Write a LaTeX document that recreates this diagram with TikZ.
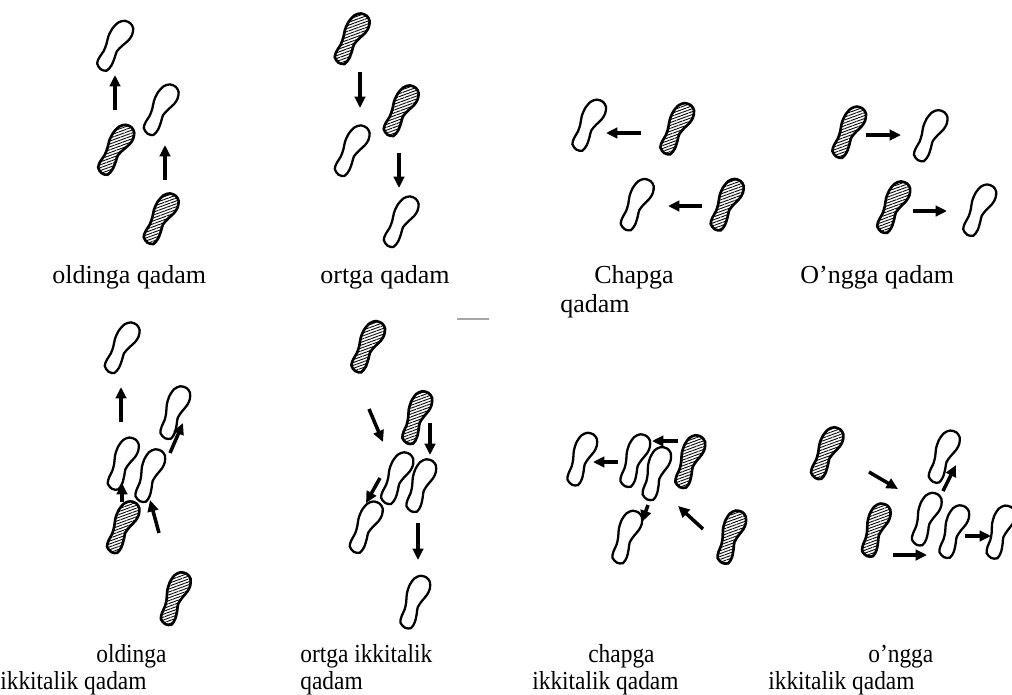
\documentclass[tikz,border=0pt]{standalone}
\usepackage{fontspec}
\setmainfont{Liberation Serif}
\usetikzlibrary{arrows.meta,patterns.meta}
\tikzset{
  openfoot/.style={draw=black, line width=1.3pt, fill=white},
  hatchfoot/.style={draw=black, line width=1.5pt, pattern={Lines[angle=20,distance=1.55pt,line width=0.5pt]}},
  steparrow/.style={line width=2pt, -{Triangle[length=6.5pt,width=6pt]}},
  lbl/.style={anchor=base west, inner sep=0pt, font=\fontsize{14.8pt}{17pt}\selectfont},
  blbl/.style={lbl, xscale=0.9},
}
\newcommand\foot[4]{\path[#4, shift={(#1,-#2)}, rotate=-#3, scale=1.07] plot[smooth cycle] coordinates {(0,-25) (5.5,-23.5) (7,-17) (6,-9) (4.8,-3) (6.5,4) (9,11) (9.5,17) (7.5,23) (3,26) (-3,25.5) (-7.5,21) (-9.5,13) (-9,5) (-7,-2) (-6,-9) (-6.5,-16) (-5.5,-22)};}
\newcommand\arr[4]{\draw[steparrow] (#1,-#2) -- (#3,-#4);}
\begin{document}
\begin{tikzpicture}[x=0.02cm,y=0.02cm]
\useasboundingbox (0,0) rectangle (1012,-694);
\fill[white] (0,0) rectangle (1012,-694);
% panel 1: oldinga qadam
\foot{114}{46}{30}{openfoot}
\foot{115}{150}{30}{hatchfoot}
\foot{160}{110}{28}{openfoot}
\foot{160}{219}{28}{hatchfoot}
\arr{115}{110}{115}{75}
\arr{165}{180}{165}{145}
% panel 2: ortga qadam
\foot{351}{39}{28}{hatchfoot}
\foot{351}{151}{28}{openfoot}
\foot{400}{111}{28}{hatchfoot}
\foot{400}{222}{28}{openfoot}
\arr{360}{72}{360}{108}
\arr{399}{153}{399}{188}
% panel 3: Chapga qadam
\foot{588}{125.5}{26}{openfoot}
\foot{676}{129}{26}{hatchfoot}
\foot{636}{205}{25}{openfoot}
\foot{726}{205}{25}{hatchfoot}
\arr{641}{133}{606}{133}
\arr{702}{206}{668}{206}
% panel 4: O'ngga qadam
\foot{848}{132.5}{26}{hatchfoot}
\foot{929.5}{136}{26}{openfoot}
\foot{892.5}{207.5}{25}{hatchfoot}
\foot{978.5}{210.5}{25}{openfoot}
\arr{866}{135}{901}{135}
\arr{913}{211}{947}{211}
% panel 5: oldinga ikkitalik qadam
\foot{121}{348}{28}{openfoot}
\foot{174}{413}{20}{openfoot}
\foot{122}{464}{22}{openfoot}
\foot{149}{476}{20}{openfoot}
\foot{122}{527.5}{24}{hatchfoot}
\foot{174.5}{599}{20}{hatchfoot}
\arr{121}{422}{121}{387}
\arr{170}{453}{183}{423}
\arr{122}{502}{122}{483}
\arr{159}{533}{150}{500}
% panel 6: ortga ikkitalik qadam
\foot{367}{347}{26}{hatchfoot}
\foot{416}{418}{20}{hatchfoot}
\foot{396}{478.5}{24}{openfoot}
\foot{420}{486}{20}{openfoot}
\foot{365}{527.5}{25}{openfoot}
\foot{414}{602.5}{20}{openfoot}
\arr{369}{409}{383}{442}
\arr{430}{423}{430}{455}
\arr{380}{478}{366}{503}
\arr{418}{523}{418}{560}
% panel 7: chapga ikkitalik qadam
\foot{581}{459.5}{20}{openfoot}
\foot{634}{461}{20}{openfoot}
\foot{655.5}{474}{18}{openfoot}
\foot{689}{462}{20}{hatchfoot}
\foot{626}{537.5}{20}{openfoot}
\foot{730.5}{537.5}{18}{hatchfoot}
\arr{618}{462}{593}{462}
\arr{678}{441}{652}{441}
\arr{648}{505}{642}{522}
\arr{703}{529}{678}{506}
% panel 8: o'ngga ikkitalik qadam
\foot{826}{453.5}{24}{hatchfoot}
\foot{943}{457}{22}{openfoot}
\foot{875}{530.5}{18}{hatchfoot}
\foot{925.5}{519.5}{20}{openfoot}
\foot{953}{532}{20}{openfoot}
\foot{999.5}{532.5}{18}{openfoot}
\arr{869}{472}{898}{489}
\arr{943}{491}{956}{465}
\arr{893}{555}{927}{555}
\arr{965}{536}{991}{536}
% scan line
\draw[gray!70, line width=0.6pt] (457,-319) -- (489,-319);
% labels
\node[lbl] (t1) at (52,-283) {oldinga qadam};
\node[lbl] (t2) at (320,-283) {ortga qadam};
\node[lbl] (t3a) at (594,-283) {Chapga};
\node[lbl] (t3b) at (560,-312) {qadam};
\node[lbl] (t4) at (800,-283) {O’ngga qadam};
\node[blbl] (b1a) at (96,-662) {oldinga};
\node[blbl] (b1b) at (0,-689) {ikkitalik qadam};
\node[blbl] (b2a) at (300,-662) {ortga ikkitalik};
\node[blbl] (b2b) at (300,-689) {qadam};
\node[blbl] (b3a) at (588,-662) {chapga};
\node[blbl] (b3b) at (532,-689) {ikkitalik qadam};
\node[blbl] (b4a) at (868,-662) {o’ngga};
\node[blbl] (b4b) at (768,-689) {ikkitalik qadam};
\end{tikzpicture}
\end{document}
